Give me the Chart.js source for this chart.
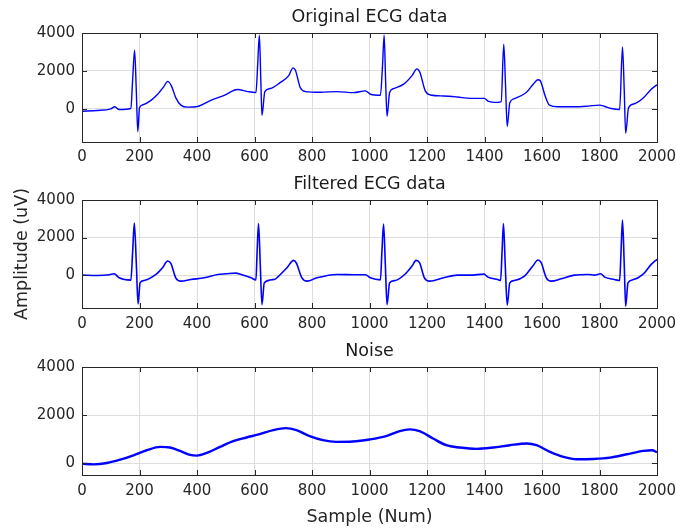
<!DOCTYPE html>
<html lang="en">
<head>
    <meta charset="UTF-8">
    <title>ECG data</title>
    <style>
        body { margin: 0; background: #fff; }
        .wrap { position: relative; width: 676px; height: 529px; }
        .wrap canvas { position: absolute; left: 0; }
    </style>
</head>
<body>

<div class="wrap">
    <canvas id="origChart" width="676" height="167" style="top:0"></canvas>
    <canvas id="filtChart" width="676" height="167" style="top:167px"></canvas>
    <canvas id="noiseChart" width="676" height="195" style="top:334px"></canvas>
</div>

<script src="https://cdn.jsdelivr.net/npm/chart.js"></script>
<script>
// values (sample number, amplitude in uV)
const origSample = [0, 54, 100, 114, 129, 170, 176, 183, 189, 194, 200, 210, 240, 263, 284, 298, 311, 326, 344, 367, 402, 448, 495, 541, 576, 605, 611, 617, 622, 626, 636, 655, 690, 719, 734, 742, 759, 777, 829, 887, 945, 986, 1003, 1038, 1045, 1051, 1056, 1061, 1070, 1084, 1119, 1148, 1165, 1175, 1194, 1212, 1258, 1305, 1351, 1400, 1412, 1446, 1458, 1467, 1473, 1479, 1488, 1504, 1545, 1568, 1586, 1594, 1611, 1626, 1655, 1713, 1760, 1800, 1818, 1841, 1870, 1880, 1886, 1891, 1901, 1922, 1951, 1980, 2000];
const origValue  = [-125, -90, 0, 107, -36, 18, 1500, 3090, 900, -1200, 54, 200, 446, 768, 1160, 1450, 1214, 590, 196, 90, 125, 446, 714, 1018, 910, 857, 2300, 3890, 1500, -340, 910, 1071, 1393, 1750, 2160, 2050, 1125, 910, 875, 910, 857, 946, 768, 714, 2200, 3890, 1500, -390, 857, 1071, 1300, 1750, 2107, 1930, 946, 732, 678, 625, 553, 553, 410, 340, 375, 3410, 1300, -930, 321, 536, 857, 1268, 1536, 1482, 678, 196, 107, 107, 143, 196, 125, 18, -36, 3270, 1000, -1286, 54, 268, 553, 1036, 1268];

const filtSample = [0, 54, 95, 112, 129, 170, 176, 182, 189, 195, 202, 216, 257, 280, 298, 309, 326, 344, 379, 425, 472, 501, 535, 553, 588, 605, 609, 614, 620, 626, 634, 669, 684, 713, 736, 745, 765, 783, 817, 887, 957, 986, 1003, 1038, 1043, 1049, 1055, 1061, 1070, 1090, 1125, 1148, 1162, 1174, 1191, 1209, 1258, 1305, 1351, 1398, 1412, 1446, 1456, 1461, 1466, 1472, 1479, 1488, 1504, 1539, 1568, 1586, 1597, 1615, 1632, 1667, 1713, 1760, 1783, 1804, 1818, 1852, 1870, 1875, 1880, 1886, 1891, 1899, 1916, 1951, 1980, 2000];
const filtValue  = [0, -18, 18, 71, -143, -268, 1200, 2770, 600, -1536, -410, -286, 36, 393, 750, 625, -143, -321, -232, -143, 36, 71, 107, 36, -143, -250, 1200, 2750, 600, -1570, -410, -232, -54, 393, 786, 660, -143, -321, -143, 36, 18, 18, -143, -250, 1200, 2715, 600, -1570, -410, -286, 71, 482, 786, 660, -143, -321, -143, 0, 0, 54, -107, -232, -286, 1200, 2750, 600, -1607, -410, -286, -54, 482, 804, 660, -143, -321, -196, 0, 36, 0, 71, -107, -232, -286, 1300, 2930, 600, -1660, -410, -250, 36, 571, 840];

const noiseSample = [0, 40, 87, 133, 179, 225, 272, 306, 341, 376, 399, 434, 480, 526, 572, 618, 665, 709, 746, 792, 838, 884, 942, 1000, 1058, 1105, 1140, 1174, 1221, 1267, 1314, 1372, 1430, 1488, 1547, 1581, 1628, 1675, 1721, 1779, 1837, 1895, 1953, 1983, 2000];
const noiseValue  = [-28, -56, 0, 140, 322, 532, 672, 644, 504, 336, 308, 420, 672, 909, 1063, 1203, 1371, 1455, 1371, 1119, 951, 881, 895, 979, 1119, 1329, 1399, 1329, 1021, 741, 644, 588, 644, 741, 811, 741, 462, 252, 154, 168, 224, 364, 504, 532, 448];

const xTicks = [0, 200, 400, 600, 800, 1000, 1200, 1400, 1600, 1800, 2000];
const yTicks = [0, 2000, 4000];

const tickColor = '#262626';
const gridColor = '#dedede';

// MATLAB-like box with ticks pointing inwards
const boxPlugin = {
    id: 'matlabBox',
    afterDraw(chart) {
        const {ctx, chartArea: a, scales: {x, y}} = chart;
        const len = 5;
        ctx.save();
        ctx.strokeStyle = tickColor;
        ctx.lineWidth = 1;
        ctx.beginPath();
        x.ticks.forEach(t => {
            const px = Math.round(x.getPixelForValue(t.value)) + 0.5;
            ctx.moveTo(px, a.bottom); ctx.lineTo(px, a.bottom - len);
            ctx.moveTo(px, a.top); ctx.lineTo(px, a.top + len);
        });
        y.ticks.forEach(t => {
            const py = Math.round(y.getPixelForValue(t.value)) + 0.5;
            ctx.moveTo(a.left, py); ctx.lineTo(a.left + len, py);
            ctx.moveTo(a.right, py); ctx.lineTo(a.right - len, py);
        });
        ctx.stroke();
        ctx.strokeRect(Math.round(a.left) + 0.5, Math.round(a.top) + 0.5,
                       Math.round(a.right - a.left), Math.round(a.bottom - a.top));
        ctx.restore();
    }
};

function makeChart(id, title, xs, ys, cfg) {
    const points = xs.map((s, i) => ({x: s, y: ys[i]}));
    return new Chart(document.getElementById(id), {
        type: 'line',
        data: {
            datasets: [{
                data: points,
                borderColor: '#0000ff',
                borderWidth: cfg.lineWidth,
                pointRadius: 0,
                cubicInterpolationMode: 'monotone',
                borderJoinStyle: 'round'
            }]
        },
        options: {
            responsive: false,
            animation: false,
            devicePixelRatio: 1,
            layout: { padding: { left: 0, right: 19, top: 0, bottom: 0 } },
            plugins: {
                legend: { display: false },
                tooltip: { enabled: false },
                title: {
                    display: true,
                    fullSize: false, // centre over the plot box, like MATLAB
                    text: title,
                    color: '#1a1a1a',
                    font: { family: 'DejaVu Sans', size: 17.5, weight: 'normal' },
                    padding: { top: 7, bottom: 5 }
                }
            },
            scales: {
                x: {
                    type: 'linear',
                    min: 0,
                    max: 2000,
                    afterBuildTicks: s => { s.ticks = xTicks.map(v => ({value: v})); },
                    afterFit: s => { s.height = cfg.xHeight; s.paddingLeft = 0; s.paddingRight = 0; },
                    grid: { color: gridColor, drawTicks: false },
                    border: { display: false },
                    ticks: {
                        color: tickColor,
                        padding: cfg.xPad,
                        maxRotation: 0,
                        autoSkip: false,
                        callback: v => String(v),
                        font: { family: 'DejaVu Sans', size: 15 }
                    },
                    title: {
                        display: !!cfg.xTitle,
                        text: cfg.xTitle || '',
                        color: tickColor,
                        font: { family: 'DejaVu Sans', size: 17.5 },
                        padding: { top: 0, bottom: 1.5 }
                    }
                },
                y: {
                    min: cfg.yMin,
                    max: 4000,
                    afterBuildTicks: s => { s.ticks = yTicks.map(v => ({value: v})); },
                    afterFit: s => { s.width = 82; s.paddingTop = 0; s.paddingBottom = 0; },
                    grid: { color: gridColor, drawTicks: false },
                    border: { display: false },
                    ticks: {
                        color: tickColor,
                        padding: 7,
                        callback: v => String(v),
                        font: { family: 'DejaVu Sans', size: 15 }
                    },
                    title: {
                        display: !!cfg.yTitle,
                        text: cfg.yTitle || '',
                        color: tickColor,
                        font: { family: 'DejaVu Sans', size: 17.5 },
                        padding: { top: 11.5, bottom: 0 }
                    }
                }
            }
        },
        plugins: [boxPlugin]
    });
}

makeChart('origChart', 'Original ECG data', origSample, origValue,
    { lineWidth: 1.4, yMin: -1750, xHeight: 25, xPad: 6.5 });
makeChart('filtChart', 'Filtered ECG data', filtSample, filtValue,
    { lineWidth: 1.6, yMin: -1750, xHeight: 26, xPad: 7.5, yTitle: 'Amplitude (uV)' });
makeChart('noiseChart', 'Noise', noiseSample, noiseValue,
    { lineWidth: 2.4, yMin: -500, xHeight: 54, xPad: 7.5, xTitle: 'Sample (Num)' });
</script>

</body>
</html>
